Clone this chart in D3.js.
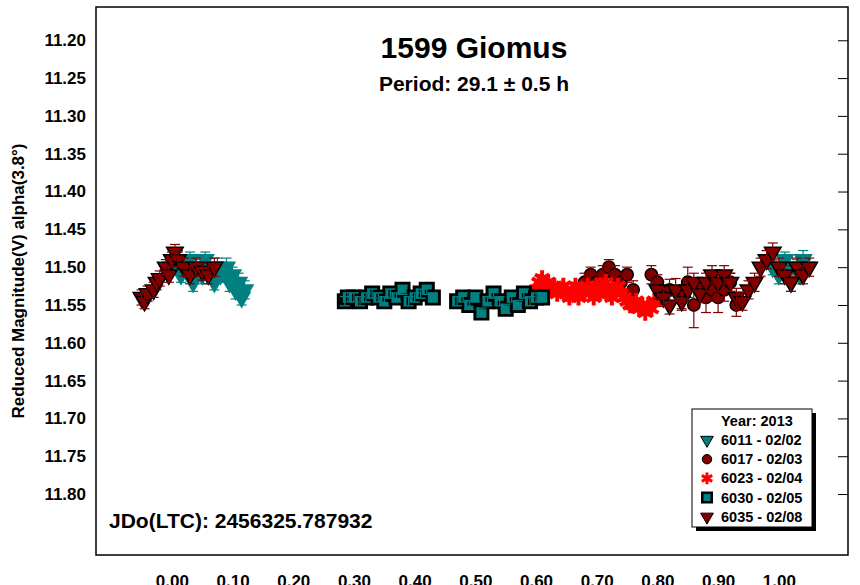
<!DOCTYPE html><html><head><meta charset="utf-8"><script src="https://cdn.jsdelivr.net/npm/d3@7"></script>
<style>body{margin:0;background:#fff}text{font-family:Arial,"Liberation Sans",sans-serif;font-weight:bold}</style></head><body><svg id="c" width="860" height="585"></svg><script>
const title="1599 Giomus", subtitle="Period: 29.1 ± 0.5 h", jdLabel="JDo(LTC): 2456325.787932";
const xTicks=[0,0.1,0.2,0.3,0.4,0.5,0.6,0.7,0.8,0.9,1.0];
const yTicks=[11.20,11.25,11.30,11.35,11.40,11.45,11.50,11.55,11.60,11.65,11.70,11.75,11.80];
const legendTitle="Year: 2013";
const s6011=[[0.00,11.50,0.01],[0.01,11.49,0.012],[0.015,11.51,0.01],[0.02,11.50,0.012],[0.03,11.49,0.01],[0.035,11.52,0.012],[0.04,11.50,0.01],[0.05,11.51,0.012],[0.055,11.49,0.01],[0.06,11.50,0.012],[0.07,11.52,0.01],[0.075,11.50,0.012],[0.08,11.51,0.01],[0.09,11.50,0.012],[0.095,11.52,0.012],[0.10,11.51,0.01],[0.105,11.53,0.012],[0.11,11.52,0.012],[0.115,11.54,0.01],[0.12,11.53,0.012],[0.98,11.49,0.012],[0.99,11.50,0.01],[1.00,11.51,0.012],[1.01,11.49,0.01],[1.015,11.50,0.012],[1.02,11.52,0.012],[1.03,11.50,0.01],[1.035,11.51,0.012],[1.04,11.49,0.012],[1.045,11.50,0.01]];
const s6017=[[0.68,11.52,0.012],[0.69,11.51,0.01],[0.70,11.52,0.012],[0.71,11.51,0.012],[0.72,11.50,0.01],[0.73,11.51,0.012],[0.74,11.52,0.012],[0.75,11.51,0.01],[0.76,11.53,0.012],[0.79,11.51,0.012],[0.80,11.52,0.01],[0.82,11.53,0.014],[0.84,11.54,0.015],[0.85,11.52,0.02],[0.86,11.55,0.03],[0.87,11.53,0.015],[0.88,11.54,0.02],[0.89,11.53,0.015],[0.90,11.54,0.02],[0.91,11.53,0.015],[0.92,11.52,0.012],[0.93,11.55,0.015]];
const s6023=[[0.60,11.53,0],[0.605,11.52,0],[0.61,11.515,0],[0.615,11.525,0],[0.62,11.52,0],[0.625,11.53,0],[0.63,11.525,0],[0.635,11.535,0],[0.64,11.53,0],[0.645,11.525,0],[0.65,11.535,0],[0.655,11.54,0],[0.66,11.53,0],[0.665,11.525,0],[0.67,11.54,0],[0.675,11.53,0],[0.68,11.535,0],[0.685,11.525,0],[0.69,11.53,0],[0.695,11.54,0],[0.70,11.525,0],[0.705,11.535,0],[0.71,11.53,0],[0.715,11.52,0],[0.72,11.535,0],[0.725,11.54,0],[0.73,11.53,0],[0.735,11.525,0],[0.74,11.535,0],[0.745,11.54,0],[0.75,11.545,0],[0.755,11.55,0],[0.76,11.55,0],[0.765,11.545,0],[0.77,11.555,0],[0.775,11.55,0],[0.78,11.56,0],[0.785,11.55,0],[0.79,11.555,0],[0.795,11.545,0]];
const s6030=[[0.285,11.545,0.006],[0.29,11.54,0.006],[0.30,11.54,0.006],[0.31,11.545,0.006],[0.32,11.54,0.006],[0.33,11.535,0.006],[0.34,11.54,0.006],[0.35,11.545,0.006],[0.36,11.535,0.006],[0.37,11.54,0.006],[0.38,11.53,0.006],[0.39,11.545,0.006],[0.40,11.54,0.006],[0.41,11.535,0.006],[0.42,11.53,0.006],[0.43,11.54,0.006],[0.47,11.545,0.006],[0.48,11.54,0.006],[0.49,11.55,0.006],[0.50,11.54,0.006],[0.51,11.56,0.006],[0.52,11.545,0.006],[0.53,11.535,0.006],[0.54,11.545,0.006],[0.55,11.555,0.006],[0.56,11.54,0.006],[0.57,11.55,0.006],[0.58,11.535,0.006],[0.59,11.545,0.006],[0.60,11.54,0.006],[0.61,11.54,0.006]];
const s6035=[[-0.05,11.54,0.01],[-0.045,11.545,0.01],[-0.04,11.535,0.01],[-0.03,11.53,0.01],[-0.025,11.52,0.01],[-0.02,11.515,0.01],[-0.01,11.50,0.01],[-0.005,11.51,0.01],[0.00,11.49,0.01],[0.005,11.48,0.01],[0.01,11.49,0.01],[0.02,11.50,0.012],[0.03,11.51,0.012],[0.04,11.50,0.012],[0.05,11.505,0.012],[0.06,11.51,0.012],[0.07,11.50,0.012],[0.80,11.53,0.012],[0.81,11.54,0.012],[0.82,11.55,0.012],[0.83,11.53,0.015],[0.84,11.545,0.012],[0.85,11.53,0.015],[0.86,11.52,0.012],[0.87,11.535,0.012],[0.88,11.52,0.012],[0.89,11.51,0.012],[0.90,11.52,0.012],[0.91,11.51,0.012],[0.92,11.52,0.012],[0.93,11.54,0.012],[0.94,11.545,0.012],[0.95,11.53,0.012],[0.96,11.52,0.012],[0.97,11.50,0.012],[0.98,11.49,0.012],[0.99,11.48,0.012],[1.00,11.50,0.012],[1.01,11.51,0.012],[1.02,11.52,0.012],[1.03,11.50,0.012],[1.04,11.51,0.012],[1.05,11.50,0.012]];
const series=[
 {name:"6011 - 02/02",data:s6011,shape:"tri",fill:"#008080",stroke:"#008080",err:"#008080"},
 {name:"6017 - 02/03",data:s6017,shape:"circ",fill:"#800000",stroke:"#000",err:"#800000"},
 {name:"6023 - 02/04",data:s6023,shape:"star",fill:"#ff0000",stroke:"#ff0000",err:"#ff0000"},
 {name:"6030 - 02/05",data:s6030,shape:"sq",fill:"#008080",stroke:"#000",err:"#008080"},
 {name:"6035 - 02/08",data:s6035,shape:"tri",fill:"#800000",stroke:"#000",err:"#800000"}];
const svg=d3.select("#c");
const L=96,R=848,T=7,B=555;
const x=d3.scaleLinear().domain([-0.125,1.114]).range([L,R]);
const y=d3.scaleLinear().domain([11.156,11.8806]).range([T,B]);
const sym={tri:d3.symbol().type(d3.symbolTriangle).size(120),circ:d3.symbol().type(d3.symbolCircle).size(120),star:d3.symbol().type(d3.symbolAsterisk).size(190),sq:d3.symbol().type(d3.symbolSquare).size(170)};
function mark(g,s,px,py){const p=g.append("path").attr("d",sym[s.shape]()).attr("fill",s.fill).attr("stroke",s.stroke).attr("stroke-width",s.shape=="star"?4:s.shape=="sq"?3:1.5);
 p.attr("transform",`translate(${px},${py})`+(s.shape=="tri"?" rotate(180)":""));}
svg.append("clipPath").attr("id","cl").append("rect").attr("x",L).attr("y",T).attr("width",R-L).attr("height",B-T);
const pg=svg.append("g").attr("clip-path","url(#cl)");
series.forEach(s=>{const g=pg.append("g");
 s.data.forEach(d=>mark(g,s,x(d[0]),y(d[1])));
 s.data.forEach(d=>{if(d[2]>0){const e=g.append("g").attr("stroke",s.err).attr("stroke-width",1.2);
  e.append("line").attr("x1",x(d[0])).attr("x2",x(d[0])).attr("y1",y(d[1]-d[2])).attr("y2",y(d[1]+d[2]));
  [d[1]-d[2],d[1]+d[2]].forEach(v=>e.append("line").attr("x1",x(d[0])-5).attr("x2",x(d[0])+5).attr("y1",y(v)).attr("y2",y(v)));}});});
svg.append("rect").attr("x",L).attr("y",T).attr("width",R-L).attr("height",B-T).attr("fill","none").attr("stroke","#000").attr("stroke-width",1.5);
const fmt=d3.format(".2f");
svg.append("g").attr("transform",`translate(0,${B})`).call(d3.axisBottom(x).tickValues(xTicks).tickFormat(fmt).tickSizeInner(0).tickSizeOuter(0).tickPadding(20))
 .call(g=>{g.select(".domain").remove();g.selectAll("text").attr("font-size",17).attr("fill","#000");});
svg.append("g").attr("transform",`translate(${L},0)`).call(d3.axisLeft(y).tickValues(yTicks).tickFormat(fmt).tickSize(0).tickPadding(10))
 .call(g=>{g.select(".domain").remove();g.selectAll("text").attr("font-size",17).attr("fill","#000");});
svg.append("g").attr("transform",`translate(${R},0)`).call(d3.axisLeft(y).tickValues(yTicks).tickFormat("").tickSizeInner(10).tickSizeOuter(0))
 .call(g=>g.select(".domain").remove());
svg.append("text").attr("x",474).attr("y",58).attr("text-anchor","middle").attr("font-size",30).text(title);
svg.append("text").attr("x",474).attr("y",91).attr("text-anchor","middle").attr("font-size",21).text(subtitle);
svg.append("text").attr("x",109).attr("y",528).attr("font-size",21).text(jdLabel);
svg.append("text").attr("transform","translate(24,281) rotate(-90)").attr("text-anchor","middle").attr("font-size",17).text("Reduced Magnitude(V) alpha(3.8°)");
const lg=svg.append("g").attr("transform","translate(692,409)");
lg.append("rect").attr("x",4).attr("y",4).attr("width",120).attr("height",118).attr("fill","#000");
lg.append("rect").attr("width",120).attr("height",118).attr("fill","#fff").attr("stroke","#000");
lg.append("text").attr("x",29).attr("y",17).attr("font-size",14.5).text(legendTitle);
const lsym={tri:d3.symbol().type(d3.symbolTriangle).size(70),circ:d3.symbol().type(d3.symbolCircle).size(70),star:d3.symbol().type(d3.symbolAsterisk).size(100),sq:d3.symbol().type(d3.symbolSquare).size(90)};
series.forEach((s,i)=>{const yy=36+i*19.2;
 lg.append("path").attr("d",lsym[s.shape]()).attr("fill",s.fill).attr("stroke",s.shape=="star"?s.fill:"#000").attr("stroke-width",s.shape=="star"?3:s.shape=="sq"?2.5:1)
  .attr("transform",`translate(15,${yy-5})`+(s.shape=="tri"?" rotate(180)":""));
 lg.append("text").attr("x",29).attr("y",yy).attr("font-size",14.5).text(s.name);});
</script></body></html>
